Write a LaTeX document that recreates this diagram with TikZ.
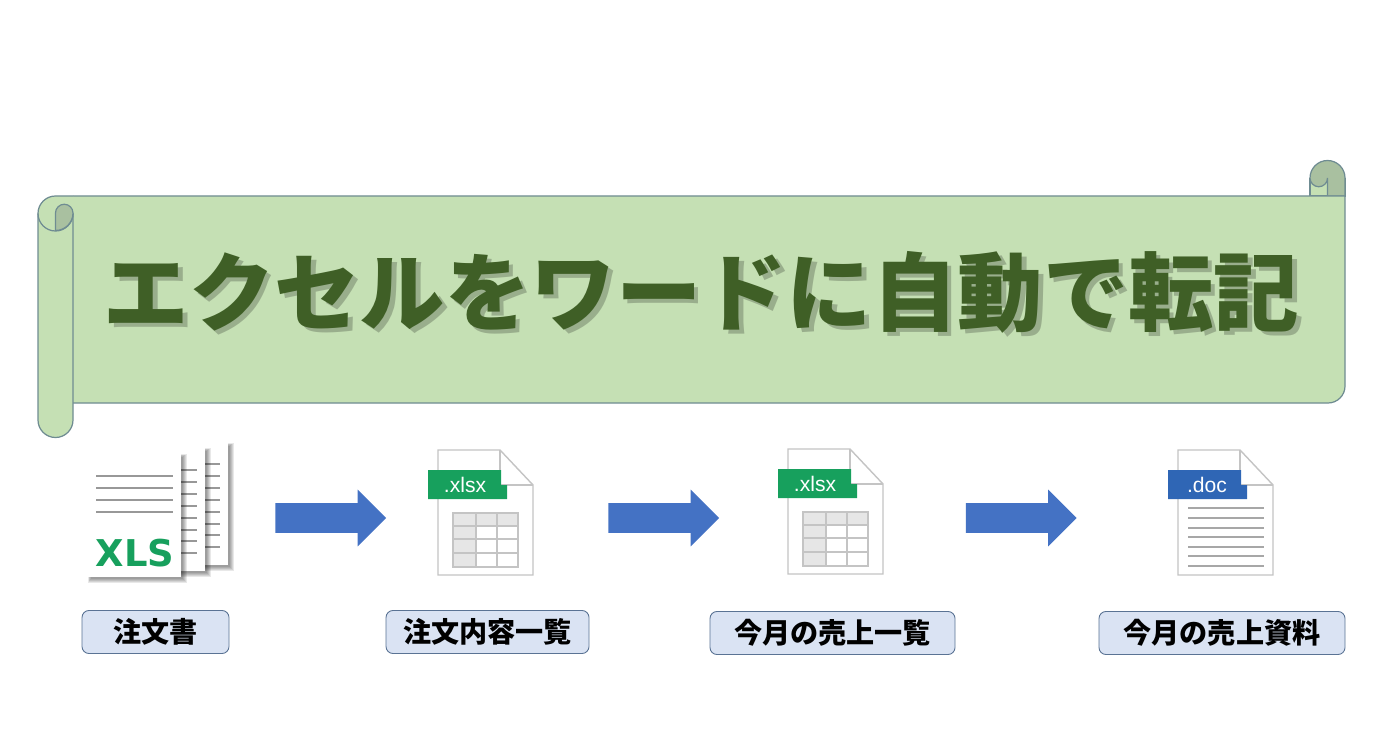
\documentclass[tikz,border=0pt]{standalone}
\usepackage{fontspec}
\usepackage{tikz}
\usetikzlibrary{shapes.arrows}
\setsansfont{Liberation Sans}
\newfontfamily\jpfont{Noto Sans CJK JP}
\newfontfamily\xlsfont{DejaVu Sans}
\definecolor{scrollgreen}{HTML}{C5E0B4}
\definecolor{curlgreen}{HTML}{A9C0A0}
\definecolor{scrollline}{HTML}{6F8C92}
\definecolor{titlegreen}{HTML}{3F5F26}
\definecolor{labelblue}{HTML}{DAE3F3}
\definecolor{labelline}{HTML}{5A7394}
\definecolor{arrowblue}{HTML}{4472C4}
\definecolor{xlsgreen}{HTML}{17A05D}
\definecolor{docblue}{HTML}{2F66B5}
\definecolor{pagegray}{HTML}{C4C4C4}
\definecolor{linegray}{HTML}{989898}
\definecolor{cellgray}{HTML}{E6E6E6}
\tikzset{
  scrollshape/.style={draw=scrollline,line width=0.7pt,fill=scrollgreen},
  scrollstroke/.style={draw=scrollline,line width=0.7pt},
  titletext/.style={font=\jpfont\bfseries\fontsize{48.6}{54}\selectfont,inner sep=0pt},
  labelbox/.style={draw=labelline,line width=0.5pt,fill=labelblue,rounded corners=4pt,
    minimum height=24.5pt,inner sep=0pt,font=\jpfont\bfseries\fontsize{16}{18}\selectfont},
  blockarrow/.style={single arrow,draw=none,fill=arrowblue,anchor=tail,
    minimum height=63pt,inner xsep=0pt,inner ysep=8.25pt,
    single arrow head extend=7.7pt,single arrow tip angle=90},
  sheetline/.style={linegray,line width=0.9pt},
  tabtext/.style={text=white,font=\sffamily\fontsize{12}{14}\selectfont,inner sep=0pt},
  % white page with a soft shadow
  pics/stacksheet/.style n args={2}{code={
    \foreach \blur in {0,...,4}
      \fill[black,opacity=0.09] (2.5-0.6*\blur,2.5-0.6*\blur) rectangle (#1+1.5+1.2*\blur,#2+1.5+1.2*\blur);
    \fill[white] (0,0) rectangle (#1,#2);
  }},
  % document outline with the folded corner
  pics/blankfile/.style={code={
    \draw[pagegray,line width=0.8pt,fill=white] (0,0) -- (62,0) -- (95,35) -- (95,125) -- (0,125) -- cycle;
    \draw[pagegray,line width=0.8pt] (62,0) -- (62,35) -- (95,35);
  }},
  pics/tabshape/.style={code={
    \fill[#1] (-10,20) -- (63,20) -- (63,35) -- (69,35) -- (69,49) -- (-10,49) -- cycle;
  }},
  % little table of the spreadsheet file
  pics/sheettable/.style={code={
    \fill[cellgray] (15,63) rectangle (80,76);
    \fill[cellgray] (15,63) rectangle (38,117);
    \draw[pagegray,line width=0.6pt] (15,63) rectangle (80,117);
    \foreach \tabley in {76,89,103}
      \draw[pagegray,line width=0.6pt] (15,\tabley) -- (80,\tabley);
    \foreach \tablex in {38,59}
      \draw[pagegray,line width=0.6pt] (\tablex,63) -- (\tablex,117);
  }}
}

\begin{document}
\begin{tikzpicture}[x=0.02cm,y=-0.02cm]
  \useasboundingbox[fill=white] (0,0) rectangle (1392,729);

  % Roll at the top right
  \draw[scrollshape] (1310,178) -- (1310,196) -- (1345,196) -- (1345,178);
  \draw[scrollshape,fill=curlgreen] (1327.5,196) -- (1327.5,178) arc (0:180:8.75)
    arc (180:360:17.5) -- (1345,196) -- cycle;

  % Body of the scroll
  \fill[scrollgreen] (73,196) -- (1345,196) -- (1345,386) arc (0:90:17) -- (73,403) -- cycle;
  \draw[scrollstroke] (73,196) -- (1345,196) -- (1345,386) arc (0:90:17) -- (73,403);

  % Roll on the left
  \fill[scrollgreen] (38,213.5) arc (180:270:17.5) -- (73,196) -- (73,420)
    arc (0:180:17.5) -- cycle;
  \draw[scrollstroke] (73,196) -- (55.5,196) arc (270:180:17.5) -- (38,420)
    arc (180:0:17.5) -- (73,213.5);
  \draw[scrollstroke] (38,213.5) arc (180:0:17.5);
  \draw[scrollshape,fill=curlgreen] (55.5,231) -- (55.5,213) arc (180:360:8.75)
    arc (0:90:17.5) -- cycle;

  % Title with its shadow
  \node[titletext,text=black,opacity=0.22] (titleshadow) at (706,296.5) {エクセルをワードに自動で転記};
  \node[titletext,text=titlegreen] (title) at (701.5,292) {エクセルをワードに自動で転記};

  % Stack of order sheets
  \pic at (137,443) {stacksheet={91}{122}};
  \foreach \liney in {464,476,488,500,512,524,535,547}
    \draw[sheetline] (205,\liney) -- (220,\liney);
  \pic at (113,448) {stacksheet={92}{123}};
  \foreach \liney in {470,482,494,506,518,530,541,553}
    \draw[sheetline] (181,\liney) -- (197,\liney);
  \pic at (88,454) {stacksheet={93}{123}};
  \foreach \liney in {476,488,500,512}
    \draw[sheetline] (96,\liney) -- (173,\liney);
  \node[text=xlsgreen,font=\xlsfont\bfseries\fontsize{21}{24}\selectfont,inner sep=0pt] (xlslabel) at (135,553.5) {XLS};

  % First spreadsheet file
  \pic at (438,450) {blankfile};
  \pic at (438,450) {sheettable};
  \pic at (438,450) {tabshape=xlsgreen};
  \node[tabtext] (xlsxa) at (465,485) {.xlsx};

  % Second spreadsheet file
  \pic at (788,449) {blankfile};
  \pic at (788,449) {sheettable};
  \pic at (788,449) {tabshape=xlsgreen};
  \node[tabtext] (xlsxb) at (815,484) {.xlsx};

  % Word file
  \pic at (1178,450) {blankfile};
  \foreach \liney in {508,518,528,537,547,556,566}
    \draw[pagegray!85!black,line width=0.6pt] (1188,\liney) -- (1264,\liney);
  \pic at (1178,450) {tabshape=docblue};
  \node[tabtext] (docext) at (1207,485) {.doc};

  % Arrows between the files
  \node[blockarrow] (arrowa) at (275,518) {};
  \node[blockarrow] (arrowb) at (608,518) {};
  \node[blockarrow] (arrowc) at (965.5,518) {};

  % Captions
  \node[labelbox,minimum width=147*0.02cm] (ordersheet) at (155.5,632) {注文書};
  \node[labelbox,minimum width=203*0.02cm] (orderlist) at (487.5,632) {注文内容一覧};
  \node[labelbox,minimum width=245*0.02cm] (saleslist) at (832.5,633) {今月の売上一覧};
  \node[labelbox,minimum width=246*0.02cm] (salesdoc) at (1222,633) {今月の売上資料};
\end{tikzpicture}
\end{document}
